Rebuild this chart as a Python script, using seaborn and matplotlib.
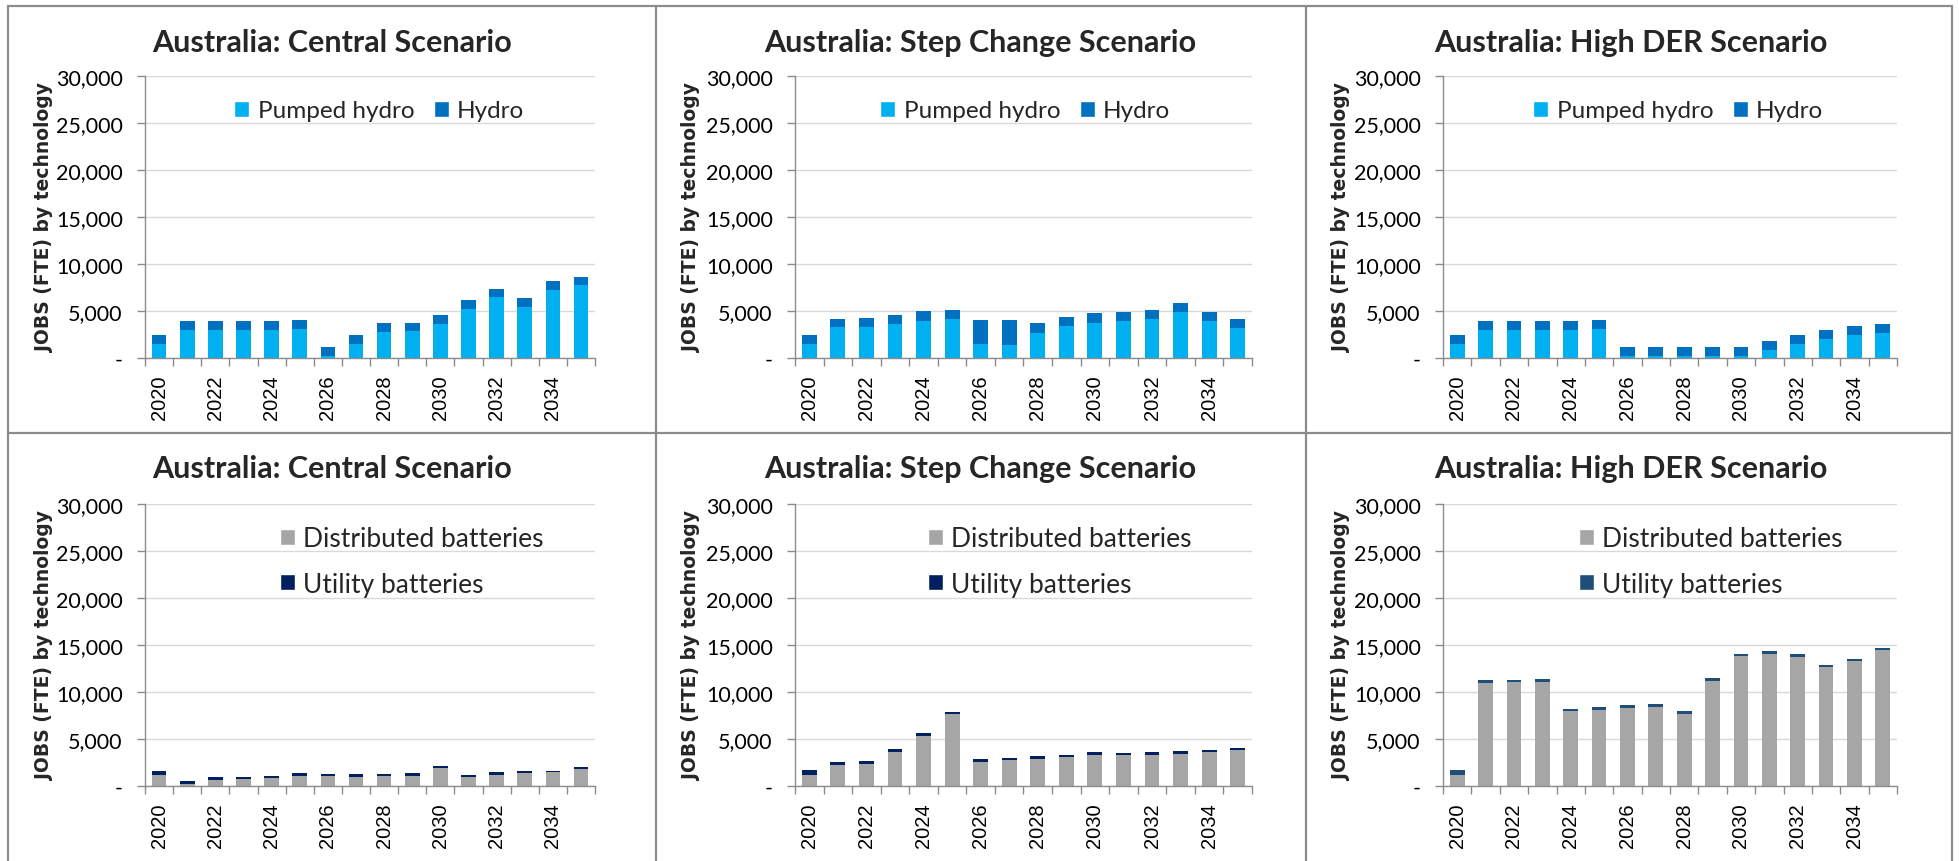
import matplotlib
matplotlib.use("Agg")
import matplotlib.pyplot as plt
from matplotlib.patches import Patch
from matplotlib.lines import Line2D
from matplotlib.ticker import FuncFormatter, MultipleLocator
import seaborn as sns
import numpy as np

sns.set_theme(style="white")

# ---- data -------------------------------------------------------------
years = list(range(2020, 2036))

central_pumped = [1500, 3000, 3000, 3000, 3000, 3100, 250, 1500, 2750, 2850, 3650, 5200, 6450, 5450, 7200, 7750]
central_hydro = [980, 970, 970, 970, 970, 980, 920, 910, 940, 910, 920, 930, 890, 930, 960, 900]

step_pumped = [1500, 3250, 3350, 3650, 3950, 4200, 1450, 1400, 2700, 3400, 3750, 3950, 4100, 4850, 3950, 3200]
step_hydro = [980, 880, 940, 960, 1010, 900, 2600, 2650, 990, 1000, 1000, 980, 970, 1000, 980, 980]

der_pumped = [1500, 3000, 3000, 3000, 3000, 3100, 250, 250, 250, 250, 250, 900, 1500, 2000, 2400, 2700]
der_hydro = [980, 970, 970, 970, 970, 980, 920, 920, 920, 920, 920, 940, 980, 940, 970, 920]

central_dist = [1170, 250, 670, 740, 810, 1100, 1060, 990, 1060, 1100, 1880, 990, 1200, 1380, 1450, 1840]
central_util = [460, 320, 250, 250, 250, 280, 250, 250, 250, 280, 210, 180, 250, 210, 140, 180]

step_dist = [1170, 2200, 2370, 3650, 5350, 7620, 2590, 2730, 2870, 3080, 3260, 3260, 3330, 3400, 3610, 3860]
step_util = [490, 310, 250, 280, 250, 280, 240, 240, 280, 250, 320, 280, 280, 320, 180, 180]

der_dist = [1170, 10950, 11020, 11090, 7930, 8110, 8320, 8390, 7620, 11120, 13780, 14060, 13710, 12610, 13320, 14520]
der_util = [490, 310, 280, 280, 290, 320, 290, 290, 310, 320, 250, 290, 290, 290, 210, 140]

titles = ["Australia: Central Scenario", "Australia: Step Change Scenario", "Australia: High DER Scenario"]
hydro_labels = ["Pumped hydro", "Hydro"]
battery_labels = ["Distributed batteries", "Utility batteries"]
y_label = "JOBS (FTE) by technology"

# ---- styling ----------------------------------------------------------
C_PUMPED = "#00B0F0"
C_HYDRO = "#0070C0"
C_DIST = "#A6A6A6"
C_UTIL = "#002060"
C_UTIL_DER = "#1F4E79"
AXIS_GREY = "#8C8C8C"
GRID_GREY = "#D9D9D9"

W, H = 1959, 862
fig = plt.figure(figsize=(W / 100, H / 100), dpi=100)
fig.patch.set_facecolor("white")


def fx(px):
    return px / W


def fy(py):
    return 1 - py / H


def thousands(v, _):
    return "-" if abs(v) < 1e-9 else f"{v:,.0f}"


cols_x = [(145, 595), (795, 1252), (1443, 1897)]
rows_y = [(77, 359), (505, 787)]
title_x = [332, 980, 1631]
ylabel_x = [45, 692, 1341]
legend_x_top = [234, 880, 1533]
legend_x_bot = [280, 928, 1579]

top_data = [(central_pumped, central_hydro), (step_pumped, step_hydro), (der_pumped, der_hydro)]
bot_data = [(central_dist, central_util), (step_dist, step_util), (der_dist, der_util)]
util_colors = [C_UTIL, C_UTIL, C_UTIL_DER]

labels = [str(y) for y in years]


def style_axes(ax):
    ax.set_xlim(-0.5, len(years) - 0.5)
    ax.set_ylim(0, 30000)
    ax.yaxis.set_major_locator(MultipleLocator(5000))
    ax.yaxis.set_major_formatter(FuncFormatter(thousands))
    ax.grid(axis="y", color=GRID_GREY, linewidth=1.0)
    ax.grid(axis="x", visible=False)
    ax.set_axisbelow(True)
    for side in ("top", "right"):
        ax.spines[side].set_visible(False)
    for side in ("left", "bottom"):
        ax.spines[side].set_color(AXIS_GREY)
        ax.spines[side].set_linewidth(1.0)
    ax.set_xticks(range(0, len(years), 2))
    ax.set_xticklabels(labels[::2], rotation=90, fontsize=14.5,
                       family="Liberation Sans", color="black")
    ax.set_xticks(np.arange(-0.5, len(years), 1.0), minor=True)
    ax.tick_params(axis="x", which="major", length=0, pad=12)
    ax.tick_params(axis="x", which="minor", length=6, width=1.0,
                   color=AXIS_GREY, direction="out", bottom=True)
    ax.tick_params(axis="y", which="major", length=6, width=1.0,
                   color=AXIS_GREY, direction="out", left=True, pad=10)
    for t in ax.get_yticklabels():
        t.set_fontsize(15.5)
        t.set_family("Lato")
        t.set_color("black")
    ax.set_xlabel("")
    ax.set_ylabel("")


def stacked(ax, lower, upper, c_low, c_up):
    total = [a + b for a, b in zip(lower, upper)]
    sns.barplot(x=labels, y=total, color=c_up, width=0.52, saturation=1,
                linewidth=0, ax=ax)
    sns.barplot(x=labels, y=lower, color=c_low, width=0.52, saturation=1,
                linewidth=0, ax=ax)


for col in range(3):
    x0, x1 = cols_x[col]
    # top row: hydro
    y0, y1 = rows_y[0]
    ax = fig.add_axes([fx(x0), fy(y1), fx(x1 - x0), (y1 - y0) / H])
    pumped, hydro = top_data[col]
    stacked(ax, pumped, hydro, C_PUMPED, C_HYDRO)
    style_axes(ax)
    handles = [Patch(facecolor=C_PUMPED, label=hydro_labels[0]),
               Patch(facecolor=C_HYDRO, label=hydro_labels[1])]
    fig.legend(handles=handles, loc="center left",
               bbox_to_anchor=(fx(legend_x_top[col]), fy(112)),
               ncol=2, frameon=False, prop={"family": "Lato", "size": 17.5},
               handlelength=0.62, handleheight=0.62, handletextpad=0.35,
               columnspacing=0.8, borderpad=0, borderaxespad=0)
    fig.text(fx(title_x[col]), fy(43), titles[col], ha="center", va="center",
             fontsize=22, fontweight="bold", family="Lato")
    fig.text(fx(ylabel_x[col]), fy((y0 + y1) / 2), y_label, rotation=90,
             ha="center", va="center", fontsize=13.5, fontweight="bold",
             family="DejaVu Sans")

    # bottom row: batteries
    y0, y1 = rows_y[1]
    ax = fig.add_axes([fx(x0), fy(y1), fx(x1 - x0), (y1 - y0) / H])
    dist, util = bot_data[col]
    stacked(ax, dist, util, C_DIST, util_colors[col])
    style_axes(ax)
    handles = [Patch(facecolor=C_DIST, label=battery_labels[0]),
               Patch(facecolor=util_colors[col], label=battery_labels[1])]
    fig.legend(handles=handles, loc="upper left",
               bbox_to_anchor=(fx(legend_x_bot[col]), fy(527)),
               ncol=1, frameon=False, prop={"family": "Lato", "size": 19},
               handlelength=0.57, handleheight=0.57, handletextpad=0.3,
               labelspacing=0.78, borderpad=0, borderaxespad=0)
    fig.text(fx(title_x[col]), fy(469), titles[col], ha="center", va="center",
             fontsize=22, fontweight="bold", family="Lato")
    fig.text(fx(ylabel_x[col]), fy((y0 + y1) / 2), y_label, rotation=90,
             ha="center", va="center", fontsize=13.5, fontweight="bold",
             family="DejaVu Sans")

# panel frame lines
frame_kw = dict(color="#8C8C8C", linewidth=1.6, transform=fig.transFigure)
for xp in (8, 656, 1306, 1952):
    fig.add_artist(Line2D([fx(xp), fx(xp)], [fy(7), 0], **frame_kw))
for yp in (7, 434):
    fig.add_artist(Line2D([fx(8), fx(1952)], [fy(yp), fy(yp)], **frame_kw))

fig.savefig("out.png", dpi=100, facecolor="white")
